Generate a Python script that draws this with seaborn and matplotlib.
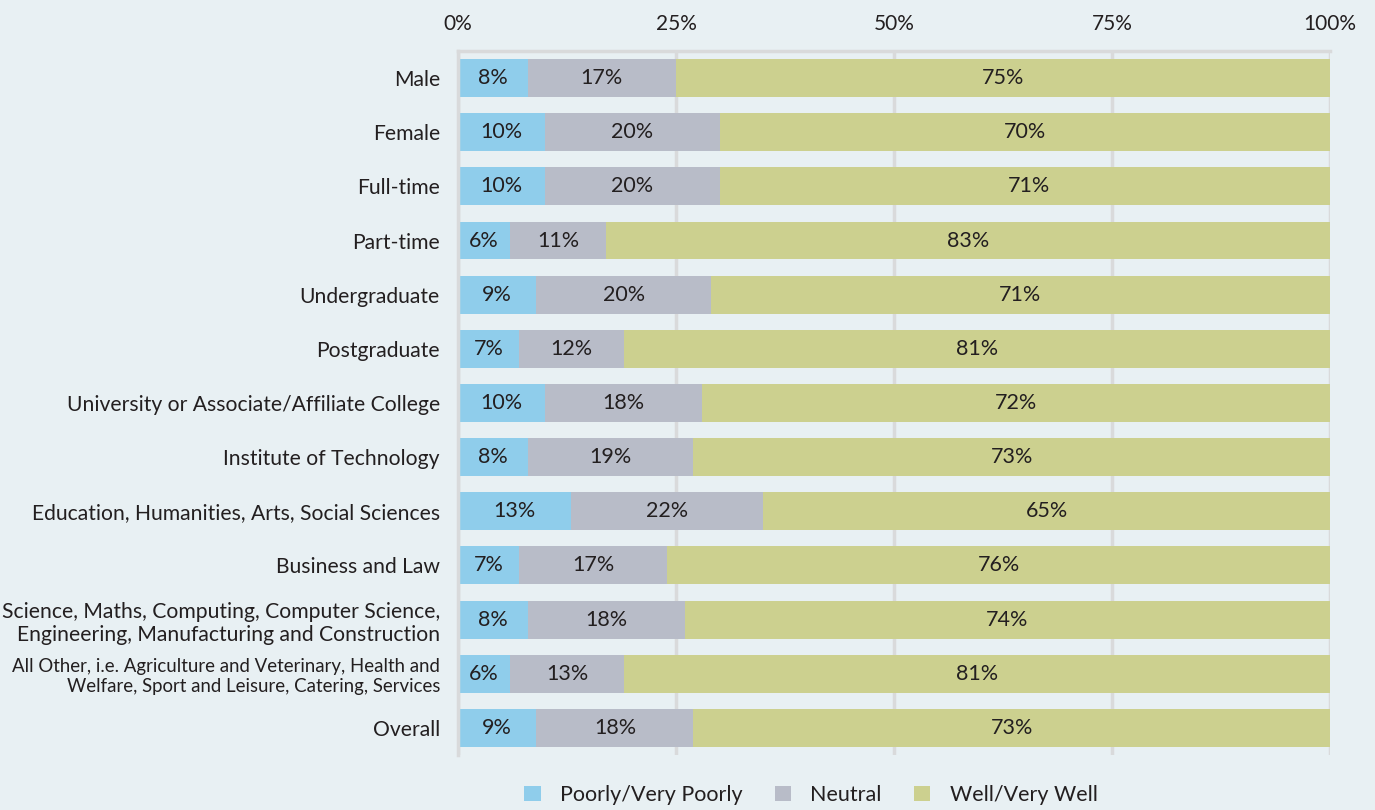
import pandas as pd
import seaborn as sns
import matplotlib.pyplot as plt

categories = [
    'Male',
    'Female',
    'Full-time',
    'Part-time',
    'Undergraduate',
    'Postgraduate',
    'University or Associate/Affiliate College',
    'Institute of Technology',
    'Education, Humanities, Arts, Social Sciences',
    'Business and Law',
    'Science, Maths, Computing, Computer Science,\nEngineering, Manufacturing and Construction',
    'All Other, i.e. Agriculture and Veterinary, Health and\nWelfare, Sport and Leisure, Catering, Services',
    'Overall',
]
poorly = [8, 10, 10, 6, 9, 7, 10, 8, 13, 7, 8, 6, 9]
neutral = [17, 20, 20, 11, 20, 12, 18, 19, 22, 17, 18, 13, 18]
well = [75, 70, 71, 83, 71, 81, 72, 73, 65, 76, 74, 81, 73]

series_names = ['Poorly/Very Poorly', 'Neutral', 'Well/Very Well']
colors = ['#8FCDEB', '#B8BCC8', '#CCD08F']
bg = '#E8F0F3'
txt = '#231F20'

df = pd.DataFrame({'cat': categories, 'poorly': poorly, 'neutral': neutral, 'well': well})
df['c1'] = df['poorly']
df['c2'] = df['poorly'] + df['neutral']
df['c3'] = df['c2'] + df['well']

sns.set_style('white')
plt.rcParams['font.family'] = ['Lato', 'DejaVu Sans']

fig = plt.figure(figsize=(13.75, 8.1), dpi=100, facecolor=bg)
ax = fig.add_axes([0.3331, 0.068, 0.6342, 0.869])
ax.set_facecolor(bg)

# stacked bars: draw cumulative totals back to front
for col, color, name in zip(['c3', 'c2', 'c1'], colors[::-1], series_names[::-1]):
    sns.barplot(data=df, x=col, y='cat', color=color, width=0.7,
                saturation=1, ax=ax, label=name, zorder=2, linewidth=0)

# value labels
for i, row in df.iterrows():
    starts = [0, row['c1'], row['c2']]
    vals = [row['poorly'], row['neutral'], row['well']]
    for s, v in zip(starts, vals):
        ax.text(s + v / 2, i, f'{v}%', ha='center', va='center',
                fontsize=15.5, color=txt, zorder=3)

ax.set_xlim(0, 100)
ax.set_ylim(12.5, -0.5)
ax.set_xticks([0, 25, 50, 75, 100])
ax.set_xticklabels(['0%', '25%', '50%', '75%', '100%'])
ax.xaxis.tick_top()
ax.tick_params(axis='x', length=0, pad=12, labelsize=15, colors=txt)
ax.tick_params(axis='y', length=0, pad=13, labelsize=15.2, colors=txt)
for lab in ax.get_yticklabels():
    if lab.get_text().startswith('All Other'):
        lab.set_fontsize(13.4)
ax.set_xlabel('')
ax.set_ylabel('')
ax.xaxis.grid(True, color='#D9DADB', linewidth=2.5, zorder=0)
ax.set_axisbelow(True)
for side in ['right', 'bottom']:
    ax.spines[side].set_visible(False)
for side in ['top', 'left']:
    ax.spines[side].set_color('#D9DADB')
    ax.spines[side].set_linewidth(2.5)

handles, labels = ax.get_legend_handles_labels()
order = [labels.index(n) for n in series_names]
ax.get_legend().remove() if ax.get_legend() else None
fig.legend([handles[k] for k in order], series_names, loc='center',
           bbox_to_anchor=(811 / 1375, 0.0185), ncol=3, frameon=False, fontsize=15.5,
           handlelength=0.75, handleheight=0.75, columnspacing=1.5, handletextpad=0.9,
           labelcolor=txt)

fig.savefig('out.png', dpi=100, facecolor=bg)
